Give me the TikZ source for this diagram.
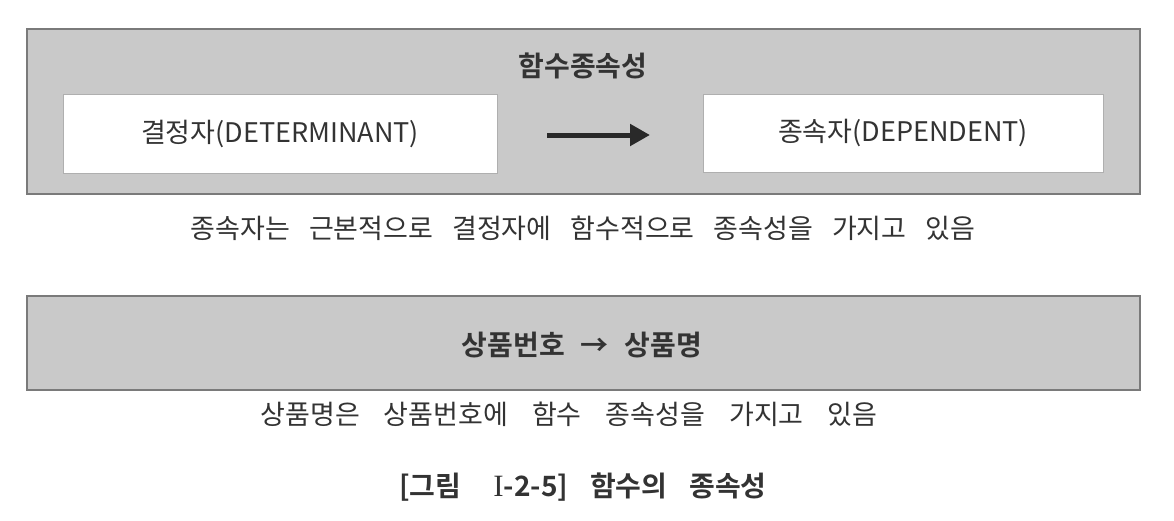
\documentclass[tikz,border=0pt]{standalone}
\usepackage{fontspec}
\setmainfont{Noto Sans CJK KR}
\newfontfamily\boldkr{Noto Sans CJK KR Bold}
\newfontfamily\romanI{Liberation Serif}
\newcommand\gapA{\hspace{19pt}}
\newcommand\gapB{\hspace{24pt}}
\newcommand\gapC{\hspace{16pt}}
\newcommand\gapD{\hspace{22pt}}
\usetikzlibrary{arrows.meta}
\definecolor{panel}{HTML}{C9C9C9}
\definecolor{panelline}{HTML}{7A7A7A}
\definecolor{ink}{HTML}{333333}
\tikzset{
  panelbox/.style={draw=panelline, line width=1.2pt, fill=panel},
  whitebox/.style={draw=panelline!60, line width=0.6pt, fill=white, inner sep=0pt},
  lbl/.style={text=ink, inner sep=0pt, font=\fontsize{27}{32}\selectfont},
  blbl/.style={text=ink, inner sep=0pt, font=\boldkr\fontsize{28}{32}\selectfont},
}
\begin{document}
\begin{tikzpicture}[x=1pt,y=-1pt]
\useasboundingbox (0,0) rectangle (1174,520);
\fill[white] (0,0) rectangle (1174,520);
% top panel
\draw[panelbox] (27,29) rectangle (1140,194);
\node[whitebox, minimum width=434pt, minimum height=79pt] (det) at (280,133.5) {};
\node[whitebox, minimum width=400pt, minimum height=78pt] (dep) at (903,133) {};
\node[lbl] at (det.center) {결정자(DETERMINANT)};
\node[lbl] at (dep.center) {종속자(DEPENDENT)};
\node[blbl] (title) at (583,66) {함수종속성};
\coordinate (as) at (547,135);
\coordinate (ae) at (650,135);
\draw[ink!80!black, line width=5pt, -{Triangle[length=20pt,width=21pt]}] (as) -- (ae);
\node[lbl] (cap1) at (583,228) {종속자는\gapA 근본적으로\gapA 결정자에\gapA 함수적으로\gapA 종속성을\gapA 가지고\gapA 있음};
% second panel
\draw[panelbox] (27,296) rectangle (1140,390);
\node[blbl] (ex) at (582,345) {상품번호\gapC →\gapC 상품명};
\node[lbl] (cap2) at (569,414) {상품명은\gapB 상품번호에\gapB 함수\gapB 종속성을\gapB 가지고\gapB 있음};
\node[blbl] (fig) at (583,487) {[그림\hspace{32pt}{\romanI\fontsize{31}{32}\selectfont I}-2-5]\gapD 함수의\gapD 종속성};
\end{tikzpicture}
\end{document}
